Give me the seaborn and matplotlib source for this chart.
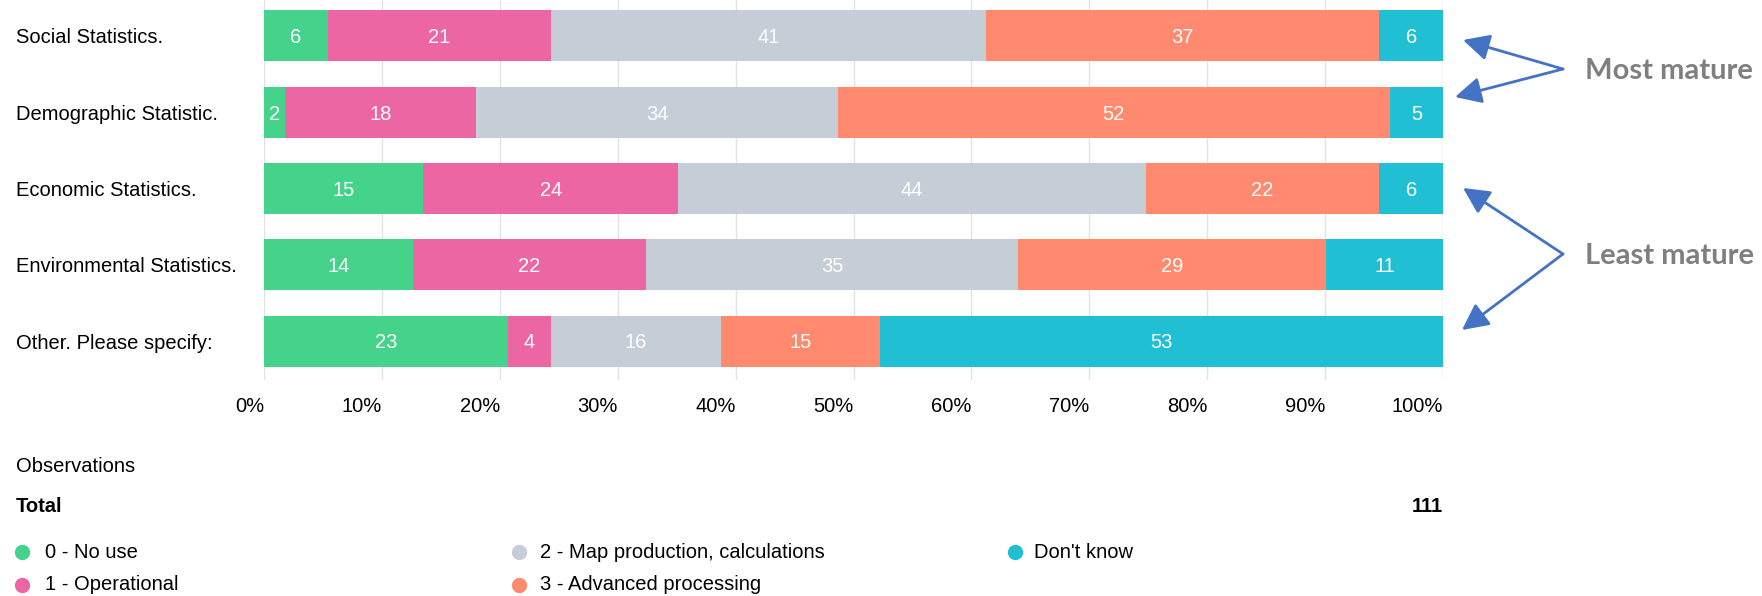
import numpy as np
import pandas as pd
import matplotlib
matplotlib.use("Agg")
import matplotlib.pyplot as plt
import seaborn as sns
from matplotlib.lines import Line2D

# ---------------- data ----------------
categories = ["Social Statistics.", "Demographic Statistic.", "Economic Statistics.",
              "Environmental Statistics.", "Other. Please specify:"]
levels = ["0 - No use", "1 - Operational", "2 - Map production, calculations",
          "3 - Advanced processing", "Don't know"]
no_use = [6, 2, 15, 14, 23]
operational = [21, 18, 24, 22, 4]
map_production = [41, 34, 44, 35, 16]
advanced = [37, 52, 22, 29, 15]
dont_know = [6, 5, 6, 11, 53]
total_obs = 111
tick_values = list(range(0, 101, 10))
tick_labels = [f"{v}%" for v in tick_values]
colors = ["#45D28A", "#EC66A4", "#C5CED7", "#FF8A70", "#21BFD3"]
annotations = ["Most mature", "Least mature"]

# ---------------- style ----------------
sns.set_theme(style="white")
plt.rcParams["font.family"] = ["Liberation Sans", "DejaVu Sans"]
FS = 14.5

W, H = 1762, 596
fig = plt.figure(figsize=(W / 100, H / 100), dpi=100)
ax = fig.add_axes([264 / W, 1 - 380 / H, 1179 / W, 380 / H])

series = [no_use, operational, map_production, advanced, dont_know]
counts = np.array(series, dtype=float)           # levels x categories
row_tot = counts.sum(axis=0)
pct = counts / row_tot * 100
cum = np.cumsum(pct, axis=0)

# draw cumulative bars from the end so that each level sits on top
for i in reversed(range(len(levels))):
    df = pd.DataFrame({"category": categories, "end": cum[i]})
    sns.barplot(data=df, x="end", y="category", order=categories, orient="h",
                color=colors[i], saturation=1, width=0.67, errorbar=None,
                linewidth=0, ax=ax, zorder=2)

# value labels
for i in range(len(levels)):
    for j in range(len(categories)):
        start = cum[i][j] - pct[i][j]
        ax.text(start + pct[i][j] / 2, j + 0.025, f"{int(counts[i][j])}", color="white",
                ha="center", va="center", fontsize=FS, zorder=3)

ax.set_xlim(0, 100)
ax.set_ylim(4.51, -0.471)
ax.set_xlabel("")
ax.set_ylabel("")
for s in ax.spines.values():
    s.set_visible(False)
ax.set_axisbelow(True)
ax.grid(axis="x", color="#E2E2E2", linewidth=1)
ax.grid(axis="y", visible=False)
ax.set_xticks(tick_values)
ax.set_xticklabels(tick_labels, ha="right")
ax.tick_params(axis="x", length=0, pad=12, labelsize=FS, colors="black")
ax.set_yticks(range(len(categories)))
ax.set_yticklabels(categories, ha="left")
ax.tick_params(axis="y", length=0, pad=(264 - 16) * 0.72, labelsize=FS, colors="black")
for lab in ax.get_yticklabels():
    lab.set_y(lab.get_position()[1])

# ---------------- bottom texts ----------------
def fy(y):
    return 1 - y / H

fig.text(16 / W, fy(466), "Observations", ha="left", va="center", fontsize=FS, color="black")
fig.text(16 / W, fy(506), "Total", ha="left", va="center", fontsize=FS, fontweight="bold", color="black")
fig.text(1443 / W, fy(506), f"{total_obs}", ha="right", va="center", fontsize=FS, fontweight="bold", color="black")

# legend (three columns, filled column-wise)
marker_x = [22, 519, 1015]
text_x = [45, 540, 1034]
rows_y = [552, 585]
for k, (lab, col) in enumerate(zip(levels, colors)):
    c, r = divmod(k, 2)
    fig.add_artist(Line2D([marker_x[c] / W], [fy(rows_y[r])], marker="o", markersize=10,
                          color=col, linestyle="none", transform=fig.transFigure))
    fig.text(text_x[c] / W, fy(rows_y[r]), lab, ha="left", va="center", fontsize=FS, color="black")

# ---------------- arrows & annotations ----------------
arrow_col = "#4472C4"
groups = [((1563, 69), [(1463, 40), (1455, 97)], annotations[0]),
          ((1563, 254), [(1463, 188), (1462, 330)], annotations[1])]
for (vx, vy), tips, label in groups:
    for tx, ty in tips:
        ax.annotate("", xy=(tx, H - ty), xytext=(vx, H - vy), xycoords="figure pixels",
                    textcoords="figure pixels",
                    arrowprops=dict(arrowstyle="-|>,head_length=0.8,head_width=0.4",
                                    color=arrow_col, lw=2, mutation_scale=20,
                                    shrinkA=0, shrinkB=0))
    fig.text(1585 / W, fy(vy + 2), label, ha="left", va="center", fontsize=21,
             fontweight="bold", color="#7F7F7F", family=["Lato", "DejaVu Sans"])

fig.savefig("out.png", dpi=100)
